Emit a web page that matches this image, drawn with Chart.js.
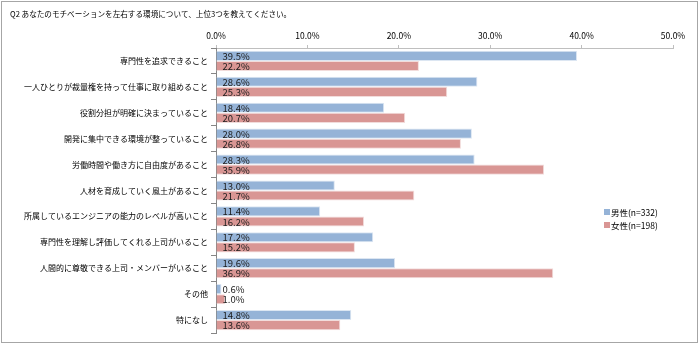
<!DOCTYPE html>
<html>
<head>
    <title>Q2 Motivation</title>
    <script src="https://cdn.jsdelivr.net/npm/chart.js"></script>
    <style>
        body { margin: 0; background: #fff; }
        #wrap { width: 700px; height: 345px; }
    </style>
</head>
<body>
    <div id="wrap"><canvas id="chart" width="700" height="345"></canvas></div>
    <script>
        const titleText = 'Q2 あなたのモチベーションを左右する環境について、上位3つを教えてください。';
        const categories = [
            '専門性を追求できること',
            '一人ひとりが裁量権を持って仕事に取り組めること',
            '役割分担が明確に決まっていること',
            '開発に集中できる環境が整っていること',
            '労働時間や働き方に自由度があること',
            '人材を育成していく風土があること',
            '所属しているエンジニアの能力のレベルが高いこと',
            '専門性を理解し評価してくれる上司がいること',
            '人間的に尊敬できる上司・メンバーがいること',
            'その他',
            '特になし'
        ];
        const maleLabel = '男性(n=332)';
        const femaleLabel = '女性(n=198)';
        const maleValues = [39.5, 28.6, 18.4, 28.0, 28.3, 13.0, 11.4, 17.2, 19.6, 0.6, 14.8];
        const femaleValues = [22.2, 25.3, 20.7, 26.8, 35.9, 21.7, 16.2, 15.2, 36.9, 1.0, 13.6];
        const tickValues = [0, 10, 20, 30, 40, 50];

        const FONT = '"Noto Sans CJK JP", "Noto Sans", sans-serif';
        const BLUE = '#95b3d7';
        const RED = '#d99694';

        // value labels, title, legend and frame
        const extras = {
            id: 'extras',
            afterDatasetsDraw(chart) {
                const c = chart.ctx;
                c.save();
                c.font = '9.5px ' + FONT;
                c.fillStyle = '#1a1a1a';
                c.textBaseline = 'middle';
                c.textAlign = 'left';
                [maleValues, femaleValues].forEach((vals, di) => {
                    chart.getDatasetMeta(di).data.forEach((bar, i) => {
                        c.fillText(vals[i].toFixed(1) + '%', bar.base + 6, bar.y + 0.5);
                    });
                });
                c.restore();
            },
            afterDraw(chart) {
                const c = chart.ctx;
                c.save();
                c.strokeStyle = '#a6a6a6';
                c.lineWidth = 1;
                c.strokeRect(1.5, 1.5, 696, 341);
                c.fillStyle = '#000';
                c.font = '7.6px ' + FONT;
                c.textBaseline = 'middle';
                c.fillText(titleText, 10, 14);
                const legend = [[maleLabel, BLUE, 212], [femaleLabel, RED, 225]];
                c.font = '8.5px ' + FONT;
                legend.forEach(([txt, col, y]) => {
                    c.fillStyle = col;
                    c.fillRect(604, y - 3, 6, 6);
                    c.fillStyle = '#000';
                    c.fillText(txt, 611, y + 0.5);
                });
                c.restore();
            }
        };

        new Chart(document.getElementById('chart'), {
            type: 'bar',
            data: {
                labels: categories,
                datasets: [
                    { label: maleLabel, data: maleValues, backgroundColor: BLUE, borderColor: '#dce6f2', borderWidth: 1 },
                    { label: femaleLabel, data: femaleValues, backgroundColor: RED, borderColor: '#f2dcdb', borderWidth: 1 }
                ]
            },
            options: {
                indexAxis: 'y',
                responsive: false,
                animation: false,
                events: [],
                layout: { padding: { left: 4, right: 27, top: 26, bottom: 12 } },
                datasets: { bar: { categoryPercentage: 0.78, barPercentage: 1.0 } },
                plugins: { legend: { display: false }, tooltip: { enabled: false } },
                scales: {
                    x: {
                        position: 'top',
                        min: 0,
                        max: 50,
                        afterBuildTicks: (s) => { s.ticks = tickValues.map(v => ({ value: v })); },
                        afterFit: (s) => { s.height = 22; },
                        border: { color: '#bfbfbf' },
                        grid: { drawOnChartArea: false, color: '#bfbfbf', tickLength: 3 },
                        ticks: {
                            color: '#000',
                            font: { family: FONT, size: 8.5 },
                            padding: 4,
                            callback: (v) => v.toFixed(1) + '%'
                        }
                    },
                    y: {
                        afterFit: (s) => { s.width = 212; },
                        border: { color: '#868686' },
                        grid: { offset: true, drawOnChartArea: false, color: '#868686', tickLength: 5 },
                        ticks: {
                            color: '#000',
                            font: { family: FONT, size: 8 },
                            padding: 3
                        }
                    }
                }
            },
            plugins: [extras]
        });
    </script>
</body>
</html>
